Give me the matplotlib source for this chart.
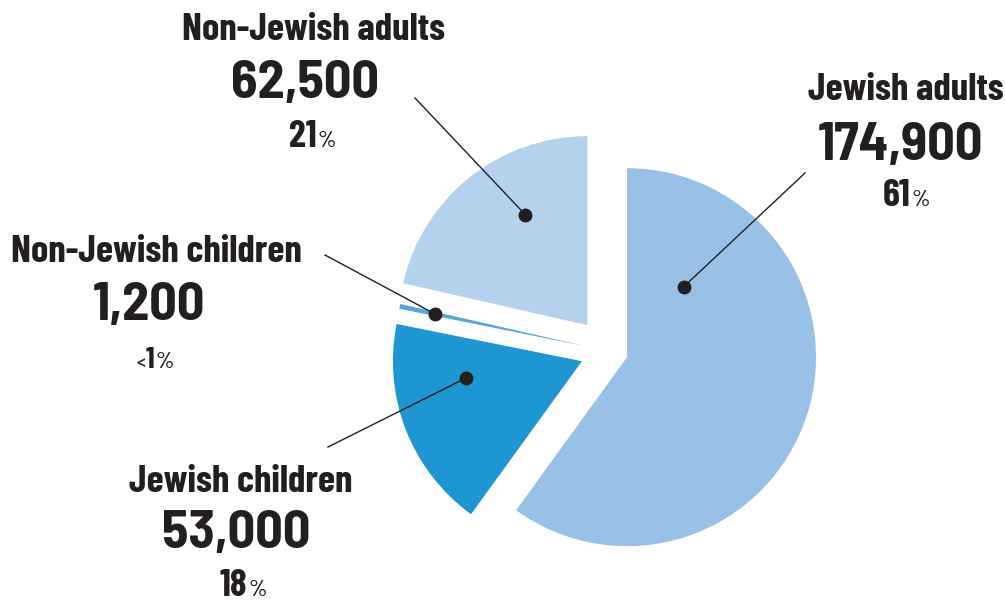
import numpy as np
import matplotlib
matplotlib.use("Agg")
import matplotlib.pyplot as plt

# --- data ---
categories = ["Jewish adults", "Jewish children", "Non-Jewish children", "Non-Jewish adults"]
counts = [174900, 53000, 1200, 62500]
shares = ["61", "18", "1", "21"]
share_prefix = ["", "", "<", ""]

# --- styling ---
colors = ["#99c0e6", "#1e96d2", "#53a5dc", "#b4d1ed"]
explode = [20, 28, 24, 33]   # pie offsets, in pixels (axes use pixel units)
ink = "#231f20"
name_font = ["Barlow Condensed", "DejaVu Sans"]
number_font = ["Barlow Semi Condensed", "Barlow Condensed", "DejaVu Sans"]
plt.rcParams["font.family"] = name_font

# label layout (pixel coords, y down)
name_xy = [(906, 100), (241, 492), (156, 262), (313, 40)]
number_xy = [(901, 160), (236, 548), (149, 320), (305, 98)]
share_xy = [(906, 206), (243, 596), (155, 368), (312, 147)]
share_size = [27.5, 27.5, 22, 27.5]
leader_end = [(805, 173), (328, 447), (325, 255), (415, 98)]
dot_t = [0.18, 0.70, 0.5, 0.62]
dot_r = [0.48, 0.62, 0.81, 0.67]

fig = plt.figure(figsize=(10.05, 6.01), dpi=100)
ax = fig.add_axes([0, 0, 1, 1])

wedges, _ = ax.pie(counts, explode=explode, colors=colors, startangle=-90,
                   counterclock=True, radius=189, center=(608, 351),
                   wedgeprops=dict(linewidth=0))
ax.set_xlim(0, 1005)
ax.set_ylim(601, 0)
ax.set_aspect("equal")
ax.axis("off")

renderer = fig.canvas.get_renderer()


def centered_pieces(cx, base, pieces, gap=1):
    texts = []
    for s, size, weight in pieces:
        t = ax.text(0, base, s, fontsize=size, fontweight=weight, color=ink,
                    ha="left", va="baseline")
        texts.append(t)
    widths = [t.get_window_extent(renderer).width for t in texts]
    x = cx - (sum(widths) + gap * (len(texts) - 1)) / 2
    for t, w in zip(texts, widths):
        t.set_x(x)
        x += w + gap


for i, w in enumerate(wedges):
    ang = np.deg2rad(w.theta1 + dot_t[i] * (w.theta2 - w.theta1))
    px = w.center[0] + dot_r[i] * w.r * np.cos(ang)
    py = w.center[1] + dot_r[i] * w.r * np.sin(ang)
    ax.plot([px, leader_end[i][0]], [py, leader_end[i][1]], color=ink, lw=1.0)
    ax.plot(px, py, "o", color=ink, markersize=9)

    ax.text(*name_xy[i], categories[i], fontsize=28, fontweight="bold",
            color=ink, ha="center", va="baseline")
    ax.text(*number_xy[i], f"{counts[i]:,}", fontsize=39, fontweight="bold",
            family=number_font, color=ink, ha="center", va="baseline")
    pieces = []
    if share_prefix[i]:
        pieces.append((share_prefix[i], 14, "medium"))
    pieces.append((shares[i], share_size[i], "bold"))
    pieces.append(("%", 17, "medium"))
    centered_pieces(share_xy[i][0], share_xy[i][1], pieces)

fig.savefig("out.png", dpi=100)
plt.close(fig)
